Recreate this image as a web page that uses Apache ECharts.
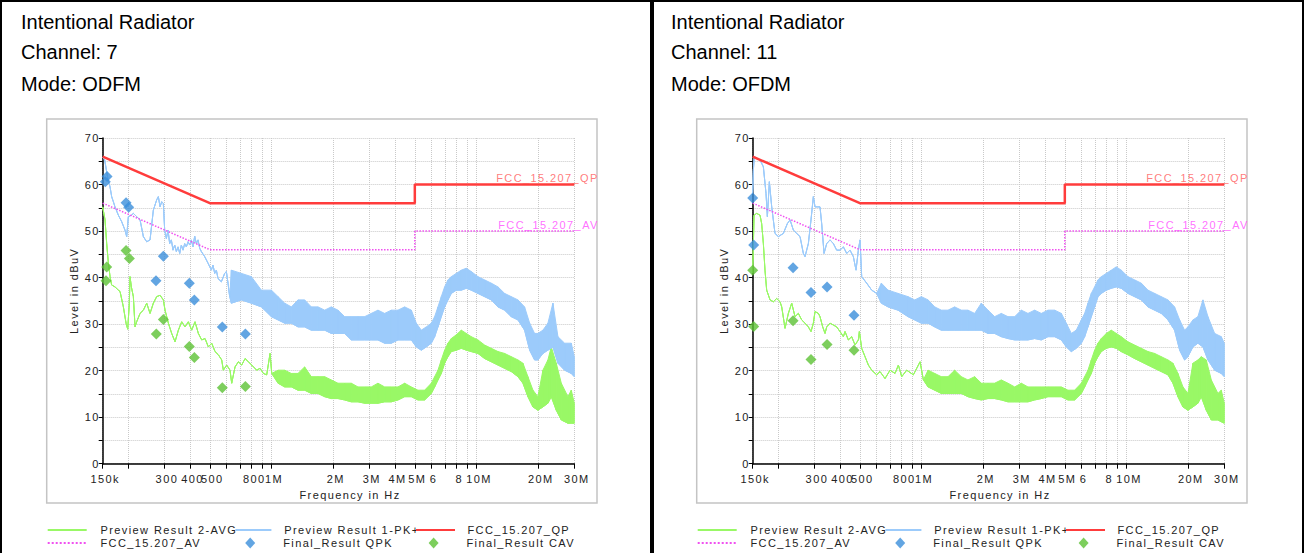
<!DOCTYPE html>
<html><head><meta charset="utf-8">
<script src="https://cdn.jsdelivr.net/npm/echarts@6/dist/echarts.min.js"></script>
<style>
html,body{margin:0;padding:0;background:#fff;}
#c{width:1306px;height:553px;}
#c svg text{letter-spacing:1.4px;}
#c svg text[style*="20px"]{letter-spacing:0;}
</style></head><body><div id="c"></div>
<script>
// ---------------- data ----------------
const panelTitles = [
  ['Intentional Radiator', 'Channel: 7', 'Mode: ODFM'],
  ['Intentional Radiator', 'Channel: 11', 'Mode: OFDM']
];
// x ticks (kHz)
const tickKHz = [150, 200, 300, 400, 500, 600, 700, 800, 900, 1000, 2000, 3000, 4000, 5000, 6000, 7000, 8000, 9000, 10000, 20000, 30000];
const labelKHz = [150, 300, 400, 500, 800, 1000, 2000, 3000, 4000, 5000, 6000, 8000, 10000, 20000, 30000];
const labelText = ['150k', '300', '400', '500', '800', '1M', '2M', '3M', '4M', '5M', '6', '8', '10M', '20M', '30M'];
// limit lines [kHz, dBuV]
const qpLimit = [[150, 66], [500, 56], [5000, 56], [5000, 60], [30000, 60]];
const avLimit = [[150, 56], [500, 46], [5000, 46], [5000, 50], [30000, 50]];
// preview traces: [kHz, level] or [kHz, low, high]
const ch7Pk = [[150,65.8],[153.4,65.3],[156.3,63.1],[159.3,61.0],[162.9,59.5],[165.9,57.4],[169.1,56.3],[172.2,55.2],[178.9,53.4],[185.7,52.0],[192.7,50.2],[196.4,48.8],[200.1,53.1],[207,53.4],[211.7,53.8],[219.7,53.1],[228.2,52.4],[236.9,48.8],[245.9,47.7],[255.3,48.1],[265,54.5],[275.1,56.7],[280.3,57.4],[285.7,55.2],[291,56.3],[296.5,55.9],[301,50.2],[306.7,48.4],[312.5,50.2],[318.3,47.3],[324.4,48.1],[330.5,45.9],[336.8,47.0],[343.2,45.6],[349.7,46.6],[356.3,45.2],[363,47.0],[369.9,45.9],[376.8,47.3],[383.9,46.6],[391.2,47.7],[398.5,47.0],[406.1,48.1],[413.8,46.6],[421.6,48.9],[429.6,47.3],[437.7,48.1],[446,46.3],[454.4,45.6],[471.8,44.5],[489.8,43.1],[508.5,41.6],[518,42.7],[527.9,40.9],[537.8,41.6],[548,39.8],[569,39.1],[590.7,40.9],[601.8,41.3],[613.2,38.8],[624.8,35.9],
  [636.6,34.5,41.6],[712.4,35.2,40.9],[797.1,34.5,40.2],[891.9,33.7,37.3],[998.1,31.6,37.3],[1076,30.9,35.9],[1159,30.2,34.5],[1249,30.2,33.7],[1346,29.4,35.2],[1450,29.4,35.2],[1563,28.7,33.7],[1684,28.7,33.7],[1816,28.7,33.0],[1957,28.0,33.7],[2109,28.0,33.0],[2273,28.0,31.6],[2450,26.6,31.6],[2640,26.6,31.6],[2846,26.6,31.6],[3067,26.6,32.3],[3305,26.6,33.0],[3562,25.9,32.3],[3839,25.9,33.0],[4138,26.6,33.0],[4460,26.6,33.7],[4807,26.6,33.0],[5084,25.1,30.2],[5378,24.4,28.7],[5688,25.1,29.4],[6018,25.9,30.2],[6248,27.3,31.6],[6486,29.4,33.7],[6733,31.6,35.9],[6990,33.7,38.0],[7256,35.2,39.5],[7533,36.6,40.2],[7971,37.3,40.9],[8429,37.3,41.6],[8913,37.7,42.0],[9426,37.3,41.3],[10163,36.6,40.2],[10953,35.9,39.5],[11805,35.2,38.8],[12725,33.7,38.0],[13710,33.0,36.6],[14777,31.6,35.9],[15930,30.9,35.2],[17160,28.7,33.7],[18165,24.4,30.2],[19200,22.3,28.0],[19935,22.3,28.0],[21090,23.7,28.7],[22305,24.4,30.2],[23595,25.1,34.5],[24960,21.6,27.3],[26910,20.1,25.9],[28995,19.4,25.9],[30000,18.7,23.0]];
const ch7Avg = [[150,55.2],[154,52.4],[156.9,47.3],[159.9,43.1],[162.9,40.2],[165.9,38.4],[172.2,38.0],[178.9,37.3],[182.3,37.0],[189.2,33.7],[195,30.2],[198.7,28.9],[202.3,34.5],[203.9,40.2],[207,38.0],[211.7,35.9],[215.7,29.4],[219.7,30.5],[228.2,32.3],[236.9,33.0],[245.9,34.5],[255.3,32.3],[265,34.5],[275.1,35.9],[285.7,36.2],[296.5,35.2],[302.1,33.0],[313.7,30.2],[325.6,28.0],[338.1,26.2],[351,28.7],[364.4,30.5],[378.2,29.4],[392.7,30.5],[407.6,28.7],[423.2,30.5],[439.3,28.0],[456.1,26.6],[473.6,26.9],[491.6,25.1],[510.4,25.9],[529.9,24.1],[550.1,23.4],[571.1,22.3],[581.9,20.1],[604.1,21.2],[627.1,20.1],[639,17.3],[663.4,20.8],[688.8,21.9],[715.1,21.2],[742.4,22.6],[770.7,21.9],[800.1,21.2],[846.4,20.1],[878.7,20.5],[912.1,19.4],[947,19.1],[983.3,23.7],[1002,19.4],
  [1076,17.3,20.1],[1159,16.5,20.1],[1249,16.5,19.4],[1346,15.8,19.4],[1450,15.8,20.8],[1563,15.1,18.7],[1684,15.1,18.7],[1816,14.4,18.7],[1957,14.0,18.0],[2109,14.0,17.3],[2273,13.7,17.3],[2450,13.3,17.3],[2640,13.3,16.5],[2846,13.0,16.5],[3067,13.0,16.5],[3305,13.0,17.3],[3562,13.3,16.5],[3839,13.3,16.5],[4138,13.7,16.5],[4460,14.4,17.3],[4807,14.4,16.5],[5180,13.7,15.8],[5583,13.7,15.8],[6018,15.1,17.3],[6248,16.5,18.7],[6486,18.0,20.1],[6733,19.4,22.3],[6990,21.6,24.4],[7256,23.0,25.9],[7533,24.1,26.9],[7971,24.4,27.7],[8429,24.8,28.7],[8913,24.4,28.0],[9426,24.1,27.3],[10163,23.7,26.6],[10953,22.6,25.5],[11805,21.9,24.8],[12725,21.2,24.1],[13710,20.5,23.7],[14777,19.8,23.0],[15930,18.7,22.3],[16845,17.3,21.6],[17820,14.4,18.7],[18855,12.2,15.8],[19935,11.5,14.4],[21090,12.2,20.1],[22305,13.0,22.3],[23160,14.4,25.1],[24495,11.5,21.6],[25920,9.4,17.3],[27930,8.7,14.4],[28995,8.7,15.8],[30000,8.7,13.0]];
const ch11Pk = [[150,58.0],[151.1,63.1],[152.8,66.0],[158.1,65.6],[162.9,65.3],[169.1,63.8],[174.2,58.1],[176.9,53.1],[180.9,60.6],[185.7,55.2],[192.7,49.5],[200.1,48.8],[211.7,49.5],[221.4,51.6],[228.2,52.4],[236.9,50.2],[245.9,49.5],[255.3,48.8],[265,45.2],[270,44.5],[280.3,47.3],[288.8,52.4],[296.5,57.4],[302.1,55.2],[310.2,55.2],[319.5,55.2],[325.6,51.6],[334.3,45.2],[344.5,47.3],[357.6,48.1],[371.3,47.3],[385.3,45.9],[400,45.9],[415.4,46.6],[431.2,45.2],[447.7,45.9],[464.7,44.5],[478.9,41.6],[491.6,45.9],[500.9,48.1],[510.4,40.2],[539.8,38.8],[571.1,37.3],[604.1,36.6],
  [636.6,34.5,38.8],[686.2,33.7,37.3],[767.8,33.0,36.6],[859.2,31.6,35.9],[926,30.9,35.2],[998.1,30.2,35.9],[1076,30.2,35.2],[1159,29.4,33.7],[1249,28.7,33.0],[1346,28.7,33.0],[1450,28.7,33.7],[1563,28.7,33.0],[1684,28.7,33.0],[1816,28.7,32.3],[1957,28.7,34.5],[2109,28.0,33.0],[2273,28.0,31.6],[2450,27.3,32.3],[2640,26.9,31.6],[2846,26.6,31.6],[3067,26.6,33.0],[3305,26.6,32.3],[3562,26.9,33.0],[3839,26.6,32.3],[4138,27.3,33.0],[4460,27.3,33.0],[4807,26.6,32.3],[5084,25.1,30.2],[5378,24.1,28.0],[5688,24.8,28.7],[6018,25.9,30.9],[6248,27.3,32.3],[6486,29.4,34.5],[6733,31.6,36.6],[6990,33.7,38.0],[7256,35.9,39.5],[7533,36.6,40.2],[7971,37.3,40.9],[8429,37.7,41.6],[8913,38.0,42.3],[9426,37.7,41.6],[10163,36.6,40.2],[10953,35.9,39.5],[11805,35.2,38.8],[12725,33.7,37.3],[13710,33.0,36.6],[14777,32.3,35.9],[15930,30.9,35.2],[17160,28.7,33.7],[18165,24.4,30.9],[19200,22.3,28.7],[19935,23.0,29.4],[21090,25.1,30.9],[22305,25.9,31.6],[23595,25.1,35.2],[24960,22.3,31.6],[26910,20.1,28.0],[28995,19.4,27.3],[30000,18.7,25.9]];
const ch11Avg = [[150,41.0],[152.3,53.4],[156.9,53.8],[162.9,53.4],[165.9,51.6],[169.1,47.3],[172.2,41.6],[175.5,37.3],[182.3,35.2],[189.2,34.8],[196.4,35.5],[203.9,34.8],[207.8,33.7],[215.7,29.1],[223.9,32.3],[232.5,34.5],[241.3,31.6],[250.5,32.3],[260.1,30.9],[270,30.2],[280.3,29.4],[288.8,28.4],[296.5,30.2],[302.1,32.7],[313.7,32.3],[319.5,31.6],[329.3,29.4],[338.1,28.0],[344.5,29.4],[357.6,30.2],[371.3,29.8],[385.3,29.4],[400,28.4],[415.4,27.3],[423.2,28.4],[439.3,26.6],[456.1,27.3],[473.6,25.5],[491.6,26.6],[497.2,28.4],[510.4,24.8],[529.9,23.0],[550.1,21.2],[571.1,20.1],[604.1,19.1],[627.1,19.8],[663.4,18.3],[701.8,20.1],[742.4,19.4],[770.7,21.2],[800.1,18.7],[846.4,20.1],[912.1,19.1],[983.3,21.9],[1020.8,18.0],
  [1076,16.5,20.1],[1159,15.8,19.4],[1249,15.1,18.7],[1346,15.1,18.7],[1450,15.1,20.1],[1563,15.1,18.7],[1684,14.4,18.0],[1816,14.0,18.7],[1957,13.7,17.3],[2109,14.0,17.3],[2273,14.0,17.3],[2450,13.7,18.0],[2640,13.3,17.3],[2846,13.3,16.5],[3067,13.3,17.3],[3305,13.3,16.5],[3562,13.7,16.5],[3839,14.0,16.5],[4138,14.4,16.5],[4460,14.4,16.5],[4807,14.4,16.5],[5180,13.7,15.8],[5583,13.7,15.8],[6018,15.1,17.3],[6248,16.5,18.7],[6486,18.0,20.1],[6733,19.4,22.3],[6990,21.6,24.4],[7256,23.0,25.9],[7533,24.1,26.9],[7971,24.8,28.0],[8429,25.1,28.7],[8913,24.8,28.0],[9426,24.1,27.3],[10163,23.4,26.2],[10953,22.6,25.5],[11805,21.9,24.8],[12725,21.2,24.1],[13710,20.5,23.7],[14777,19.8,23.0],[15930,19.1,22.3],[16845,17.3,21.6],[17820,14.4,19.4],[18855,12.2,16.5],[19935,11.5,15.1],[21090,12.2,21.6],[22305,13.0,22.3],[23160,14.4,23.0],[24495,11.5,22.3],[25920,9.4,18.0],[27930,9.4,15.1],[28995,9.0,15.8],[30000,8.7,13.0]];
// final results [kHz, dBuV]
const ch7Qpk = [[154.5,60.6],[157.5,61.7],[195,56.1],[200.9,55.1],[273,39.3],[296.5,44.6],[397,38.8],[420,35.2],[575,29.4],[745,27.9]];
const ch7Cav = [[155.7,39.3],[156.9,42.3],[195,45.8],[202.4,44.1],[274,27.9],[296.5,31.0],[397,25.2],[420,22.8],[575,16.3],[745,16.6]];
const ch11Qpk = [[150,57.1],[151.7,47.0],[236,42.1],[288.8,36.8],[345.8,38.0],[468,31.9]];
const ch11Cav = [[150,41.6],[151.7,29.5],[236,30.7],[288.8,22.4],[345.8,25.6],[468,24.4]];

// ---------------- build ----------------
const FONT = '"Liberation Sans", Arial, sans-serif';
const C = {avg:'#99f866', pk:'#9ccbfb', qp:'#ff3c3c', av:'#f050f0', qpk:'#3b8fdb', cav:'#5cc234', grid:'#c9c9c9', txt:'#222'};
const toX = k => Math.log10(k * 1000);
const labelMap = {};
labelKHz.forEach((k, i) => { labelMap[toX(k).toFixed(5)] = labelText[i]; });

const panels = [
  {dx: 0, pk: ch7Pk, avg: ch7Avg, qpk: ch7Qpk, cav: ch7Cav, title: panelTitles[0]},
  {dx: 650, pk: ch11Pk, avg: ch11Avg, qpk: ch11Qpk, cav: ch11Cav, title: panelTitles[1]}
];

const grids = [], xAxes = [], yAxes = [], series = [], legends = [], graphics = [];
const small = {fontSize: 11, fontFamily: FONT, color: C.txt};

// a trace = low edge line (also gives the legend icon) + band polygons between low and high edges
function traceSeries(name, tr, color, gi) {
  const lo = tr.map(d => [toX(d[0]), d[1]]);
  const segs = [];
  for (let i = 0; i < tr.length - 1; i++) {
    const a = tr[i], b = tr[i + 1];
    segs.push([toX(a[0]), a[1], a.length > 2 ? a[2] : a[1], toX(b[0]), b[1], b.length > 2 ? b[2] : b[1]]);
  }
  return [
    {type: 'line', name, xAxisIndex: gi, yAxisIndex: gi, symbol: 'none', data: lo,
     lineStyle: {color, width: 1}, itemStyle: {color}, emphasis: {disabled: true}, z: 2},
    {type: 'custom', name, xAxisIndex: gi, yAxisIndex: gi, data: segs, silent: true, z: 2,
     encode: {x: [0, 3], y: [1, 2, 4, 5]},
     renderItem: (params, api) => {
       const p1 = api.coord([api.value(0), api.value(2)]);
       const p2 = api.coord([api.value(3), api.value(5)]);
       const p3 = api.coord([api.value(3), api.value(4)]);
       const p4 = api.coord([api.value(0), api.value(1)]);
       return {type: 'polygon', shape: {points: [p1, p2, p3, p4]},
               style: {fill: color, stroke: color, lineWidth: 1}};
     }}
  ];
}

panels.forEach((p, gi) => {
  const dx = p.dx;
  grids.push({left: 102.7 + dx, top: 138, width: 471.6, height: 325.7, show: false});
  xAxes.push({
    type: 'value', gridIndex: gi, min: toX(150), max: toX(30000),
    axisLine: {show: true, onZero: false, lineStyle: {color: '#000', width: 1.5}},
    axisTick: {show: true, customValues: tickKHz.map(toX), length: 5, lineStyle: {color: '#000', width: 1}},
    axisLabel: Object.assign({customValues: labelKHz.map(toX), formatter: v => labelMap[v.toFixed(5)] || '',
      margin: 10, showMinLabel: true, showMaxLabel: true, padding: [0, 0, 0, 5]}, small),
    splitLine: {show: true, lineStyle: {color: C.grid, type: 'dotted', width: 1}},
    name: 'Frequency in Hz', nameLocation: 'middle', nameGap: 26,
    nameTextStyle: Object.assign({padding: [0, 0, 0, 23]}, small)
  });
  yAxes.push({
    type: 'value', gridIndex: gi, min: 0, max: 70, interval: 5,
    axisLine: {show: true, onZero: false, lineStyle: {color: '#000', width: 1.5}},
    axisTick: {show: true, length: 4, lineStyle: {color: '#000', width: 1}},
    axisLabel: Object.assign({formatter: v => (v % 10 === 0 ? String(v) : ''), margin: 3}, small),
    splitLine: {show: true, lineStyle: {color: C.grid, type: 'dotted', width: 1}},
    name: 'Level in dBuV', nameLocation: 'middle', nameGap: 23,
    nameTextStyle: Object.assign({padding: [0, 0, 0, 20]}, small)
  });

  series.push(...traceSeries('Preview Result 2-AVG', p.avg, C.avg, gi));
  series.push(...traceSeries('Preview Result 1-PK+', p.pk, C.pk, gi));
  series.push({type: 'line', name: 'FCC_15.207_QP', xAxisIndex: gi, yAxisIndex: gi, symbol: 'none',
    data: qpLimit.map(d => [toX(d[0]), d[1]]), lineStyle: {color: C.qp, width: 2.5}, itemStyle: {color: C.qp}, z: 3});
  series.push({type: 'line', name: 'FCC_15.207_AV', xAxisIndex: gi, yAxisIndex: gi, symbol: 'none',
    data: avLimit.map(d => [toX(d[0]), d[1]]), lineStyle: {color: C.av, width: 1.5, type: 'dotted'}, itemStyle: {color: C.av}, z: 3});
  // limit names at the end of each limit line
  [[qpLimit, 'FCC_15.207_QP', '#ff5a5a'], [avLimit, 'FCC_15.207_AV', '#ff4dff']].forEach(([lim, txt, col]) => {
    const last = lim[lim.length - 1];
    series.push({type: 'scatter', xAxisIndex: gi, yAxisIndex: gi, symbolSize: 0, clip: false, silent: true,
      data: [[toX(last[0]), last[1]]], z: 4,
      label: {show: true, formatter: txt, position: 'top', distance: 0, align: 'right', verticalAlign: 'bottom',
        offset: [24.5, 0], color: col, fontSize: 11, fontFamily: FONT, lineHeight: 13}});
  });
  series.push({type: 'scatter', name: 'Final_Result QPK', xAxisIndex: gi, yAxisIndex: gi, symbol: 'diamond', symbolSize: 11,
    clip: false, data: p.qpk.map(d => [toX(d[0]), d[1]]), itemStyle: {color: C.qpk}, z: 5});
  series.push({type: 'scatter', name: 'Final_Result CAV', xAxisIndex: gi, yAxisIndex: gi, symbol: 'diamond', symbolSize: 11,
    clip: false, data: p.cav.map(d => [toX(d[0]), d[1]]), itemStyle: {color: C.cav}, z: 5});

  // legend (one component per entry so each sits in its column)
  const row1 = 523, row2 = 536;
  const L = (name, left, top, w, h, pad, lineOnly) => ({data: [name], left: left + dx, top, itemWidth: w, itemHeight: h,
    padding: 0, selectedMode: false, orient: 'horizontal',
    itemStyle: lineOnly ? {opacity: 0} : {},
    textStyle: {fontSize: 11, fontFamily: FONT, color: C.txt, lineHeight: 14, padding: [0, 0, 0, pad]}});
  legends.push(L('Preview Result 2-AVG', 46.7, row1, 39, 10, 8.8, true));
  legends.push(L('Preview Result 1-PK+', 234.4, row1, 36, 10, 7.8, true));
  legends.push(L('FCC_15.207_QP', 415, row1, 39, 10, 7.5, true));
  legends.push(L('FCC_15.207_AV', 46.7, row2, 39, 10, 8.8, true));
  legends.push(L('Final_Result QPK', 245.2, row2, 10, 11, 23, false));
  legends.push(L('Final_Result CAV', 428.6, row2, 10, 11, 22.9, false));

  // chart frame & panel border & header
  graphics.push({type: 'rect', silent: true, shape: {x: 46.7 + dx, y: 119, width: 550.3, height: 384},
    style: {fill: 'none', stroke: '#c4c4c4', lineWidth: 1.5}});
  graphics.push({type: 'rect', silent: true, shape: {x: 1 + dx, y: 1, width: 652, height: 600},
    style: {fill: 'none', stroke: '#000', lineWidth: 2}});
  p.title.forEach((t, i) => {
    graphics.push({type: 'text', silent: true, style: {text: t, x: 21 + dx, y: [22, 52, 84][i],
      font: '20px "Liberation Sans", Arial, sans-serif', fill: '#000', verticalAlign: 'middle'}});
  });
});

const chart = echarts.init(document.getElementById('c'), null, {renderer: 'svg', width: 1306, height: 553});
chart.setOption({
  animation: false,
  backgroundColor: '#fff',
  grid: grids, xAxis: xAxes, yAxis: yAxes, series, legend: legends,
  graphic: {elements: graphics}
});
</script></body></html>
